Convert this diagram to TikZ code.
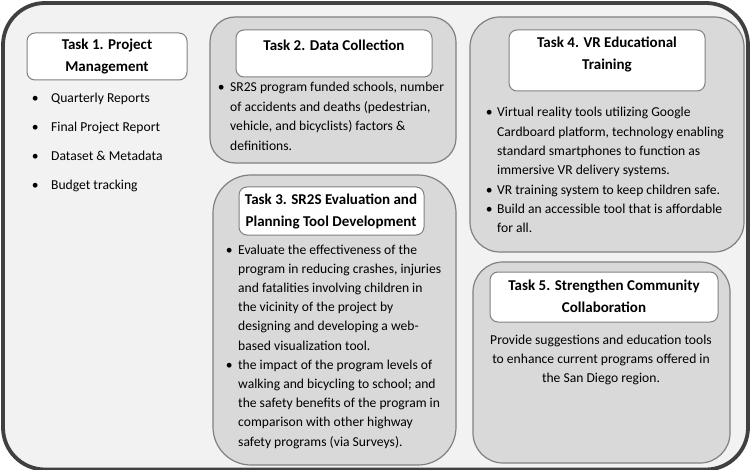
\documentclass[tikz,border=0pt]{standalone}
\usepackage{fontspec}
\setmainfont{Carlito}

\definecolor{framegray}{HTML}{404040}
\definecolor{backgray}{HTML}{F2F2F2}
\definecolor{panelgray}{HTML}{D9D9D9}
\definecolor{edgegray}{HTML}{808080}
\newcommand{\bl}[1]{\makebox[#1]{\textbullet}}

\begin{document}
\begin{tikzpicture}[x=1pt,y=-1pt,
    panel/.style={draw=edgegray,fill=panelgray,line width=1.2pt},
    titlebox/.style={draw=edgegray,fill=white,line width=1pt,rounded corners=8pt},
    title/.style={font=\fontsize{15}{22}\selectfont\bfseries,align=center,inner sep=0pt},
    body/.style={font=\fontsize{13.6}{19.3}\selectfont,inner sep=0pt,anchor=base west}]

    \useasboundingbox (0,0) rectangle (751,470);

    % outer frame
    \draw[draw=framegray,fill=backgray,line width=3.8pt,rounded corners=42pt] (3,3) rectangle (748,469.5);

    % panels
    \draw[panel,rounded corners=25pt] (210,17) rectangle (456,163);
    \draw[panel,rounded corners=38pt] (213,175) rectangle (456,465);
    \draw[panel,rounded corners=30pt] (470,17) rectangle (744,252);
    \draw[panel,rounded corners=30pt] (473,262) rectangle (730,463);

    % title boxes
    \draw[titlebox] (27,33) rectangle (187,80);
    \draw[titlebox] (236,30) rectangle (432,77);
    \draw[titlebox] (239,187) rectangle (424,235);
    \draw[titlebox] (509,30) rectangle (705,91);
    \draw[titlebox] (490,272) rectangle (718,322);

    \node[title] (T1) at (107,57) {Task 1. Project\\Management};
    \node[title] (T2) at (334,45) {Task 2. Data Collection};
    \node[title] (T3) at (331,211) {Task 3. SR2S Evaluation and\\Planning Tool Development};
    \node[title] (T4) at (607,54.5) {Task 4. VR Educational\\Training};
    \node[title] (T5) at (604,296) {Task 5. Strengthen Community\\Collaboration};

    % task texts
    \node[body,font=\fontsize{13.6}{28.7}\selectfont] (L1) at (19,103) {\begin{tabular}[t]{@{}l@{}l@{}}
        \bl{32pt} & Quarterly Reports\\
        \bl{32pt} & Final Project Report\\
        \bl{32pt} & Dataset \& Metadata\\
        \bl{32pt} & Budget tracking
    \end{tabular}};

    \node[body,font=\fontsize{13.6}{19.5}\selectfont] (L2) at (212,92) {\begin{tabular}[t]{@{}l@{}l@{}}
        \bl{18pt} & SR2S program funded schools, number\\
                  & of accidents and deaths (pedestrian,\\
                  & vehicle, and bicyclists) factors \&\\
                  & definitions.
    \end{tabular}};

    \node[body,font=\fontsize{13.6}{19.2}\selectfont] (L3) at (220,254) {\begin{tabular}[t]{@{}l@{}l@{}}
        \bl{18pt} & Evaluate the effectiveness of the\\
                  & program in reducing crashes, injuries\\
                  & and fatalities involving children in\\
                  & the vicinity of the project by\\
                  & designing and developing a web-\\
                  & based visualization tool.\\
        \bl{18pt} & the impact of the program levels of\\
                  & walking and bicycling to school; and\\
                  & the safety benefits of the program in\\
                  & comparison with other highway\\
                  & safety programs (via Surveys).
    \end{tabular}};

    \node[body] (L4) at (481,117) {\begin{tabular}[t]{@{}l@{}l@{}}
        \bl{16pt} & Virtual reality tools utilizing Google\\
                  & Cardboard platform, technology enabling\\
                  & standard smartphones to function as\\
                  & immersive VR delivery systems.\\
        \bl{16pt} & VR training system to keep children safe.\\
        \bl{16pt} & Build an accessible tool that is affordable\\
                  & for all.
    \end{tabular}};

    \node[body,font=\fontsize{13.6}{19}\selectfont,anchor=base] (L5) at (601,344) {\begin{tabular}[t]{@{}c@{}}
        Provide suggestions and education tools\\
        to enhance current programs offered in\\
        the San Diego region.
    \end{tabular}};

\end{tikzpicture}
\end{document}
